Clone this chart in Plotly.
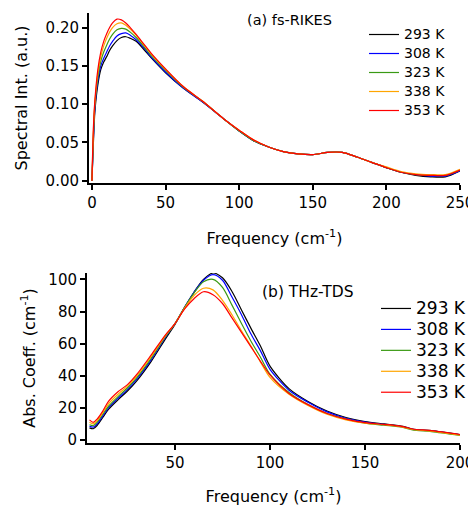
import plotly.graph_objects as go

# ---------------- data ----------------
temps = ["293 K", "308 K", "323 K", "338 K", "353 K"]
colors = ["#000000", "#0000ff", "#3a9a14", "#ffa500", "#ff0000"]

# (a) fs-RIKES
freq_a = [0, 1, 2, 4, 6, 8, 10, 12, 14, 17, 20, 23, 26, 30, 35, 40, 50, 62, 75, 90,
          100, 110, 120, 130, 140, 150, 160, 170, 180, 190, 200, 210, 220, 230, 240, 250]
rikes_293 = [0, 0.050, 0.090, 0.125, 0.145, 0.155, 0.162, 0.170, 0.176, 0.183, 0.187, 0.188,
             0.186, 0.182, 0.172, 0.161, 0.141, 0.121, 0.103, 0.080,
             0.065, 0.052, 0.044, 0.038, 0.035, 0.034, 0.037, 0.037, 0.031, 0.024,
             0.017, 0.011, 0.007, 0.005, 0.005, 0.013]
rikes_308 = [0, 0.055, 0.095, 0.130, 0.150, 0.160, 0.168, 0.176, 0.182, 0.189, 0.192, 0.193,
             0.190, 0.184, 0.174, 0.162, 0.142, 0.121, 0.103, 0.080,
             0.065, 0.052, 0.044, 0.038, 0.035, 0.034, 0.037, 0.037, 0.031, 0.024,
             0.017, 0.011, 0.008, 0.006, 0.006, 0.013]
rikes_323 = [0, 0.060, 0.100, 0.135, 0.156, 0.168, 0.177, 0.185, 0.191, 0.197, 0.199, 0.198,
             0.194, 0.187, 0.176, 0.164, 0.144, 0.122, 0.104, 0.080,
             0.065, 0.052, 0.044, 0.038, 0.035, 0.034, 0.037, 0.037, 0.031, 0.024,
             0.017, 0.011, 0.008, 0.007, 0.007, 0.014]
rikes_338 = [0, 0.065, 0.102, 0.140, 0.162, 0.176, 0.186, 0.194, 0.200, 0.205, 0.206, 0.203,
             0.198, 0.190, 0.178, 0.166, 0.145, 0.123, 0.104, 0.080,
             0.066, 0.053, 0.044, 0.038, 0.035, 0.034, 0.037, 0.037, 0.031, 0.024,
             0.018, 0.012, 0.009, 0.008, 0.008, 0.015]
rikes_353 = [0, 0.070, 0.105, 0.145, 0.168, 0.182, 0.192, 0.200, 0.206, 0.211, 0.210, 0.206,
             0.200, 0.191, 0.179, 0.167, 0.146, 0.123, 0.104, 0.080,
             0.066, 0.053, 0.044, 0.038, 0.035, 0.034, 0.037, 0.037, 0.031, 0.024,
             0.017, 0.011, 0.008, 0.007, 0.007, 0.014]

# (b) THz-TDS
freq_b = [5, 7, 9, 12, 15, 20, 25, 30, 37.5, 45, 50, 55, 60, 65, 70, 75, 80, 85, 90, 95,
          100, 110, 120, 130, 140, 150, 160, 170, 175, 185, 200]
thz_293 = [7.5, 7, 9, 14, 19, 25, 30.5, 37, 49, 63, 72, 82.5, 92, 100, 104, 101, 92.5, 81, 69.5, 58.5,
           46, 32, 24, 18, 14, 11.5, 10, 8.5, 6.8, 5.8, 3.3]
thz_308 = [8.5, 8, 10, 15, 20, 26, 31.5, 38, 50, 64, 72.5, 82.5, 92, 99.5, 103, 99.5, 89, 78, 66, 55.5,
           44, 31, 23.5, 17.5, 13.5, 11.2, 9.7, 8.2, 6.6, 5.6, 3.2]
thz_323 = [9.5, 9, 11, 16, 21, 27, 32.5, 39, 51, 64.5, 72.5, 82.5, 91.5, 98.5, 100, 95, 84, 72.5, 61.5, 51.5,
           41, 29.5, 22, 16.5, 13, 10.5, 9.2, 7.8, 6.2, 5.2, 2.8]
thz_338 = [11, 10, 12, 17, 22.5, 28.5, 33.5, 40, 52, 65, 72.5, 82, 90, 94.5, 93.5, 87, 78, 68, 58.5, 48.5,
           39, 28.5, 21.5, 16, 12.5, 10.5, 9.5, 8, 6.5, 5.5, 3]
thz_353 = [12.5, 11, 13, 18, 24, 30, 34.5, 41, 53, 65.5, 72.5, 81.5, 88, 92.3, 90.5, 85, 76, 67, 58, 49,
           40.5, 29, 22, 16.5, 13, 10.8, 9.7, 8.3, 6.8, 5.8, 3.4]

rikes = [rikes_293, rikes_308, rikes_323, rikes_338, rikes_353]
thz = [thz_293, thz_308, thz_323, thz_338, thz_353]

xticks_a = [0, 50, 100, 150, 200, 250]
yticks_a = [0.00, 0.05, 0.10, 0.15, 0.20]
xticks_b = [50, 100, 150, 200]
yticks_b = [0, 20, 40, 60, 80, 100]

# ---------------- figure ----------------
FONT = "DejaVu Sans, Arial, sans-serif"
# page body has an 8px margin, so the figure is 8px smaller each way
OFF = 8
W, H = 476 - OFF, 506 - OFF


def fx(px):
    return (px - OFF) / W


def fy(py):
    return 1 - (py - OFF) / H


def legend_label(name, size):
    return f'<span style="font-size:{size}px">{name}</span>'


fig = go.Figure()

for name, col, ys in zip(temps, colors, rikes):
    fig.add_trace(go.Scatter(x=freq_a, y=ys, mode="lines", name=legend_label(name, 14),
                             line=dict(color=col, width=1.2, shape="spline", smoothing=0.8),
                             xaxis="x", yaxis="y", legend="legend"))
for name, col, ys in zip(temps, colors, thz):
    fig.add_trace(go.Scatter(x=freq_b, y=ys, mode="lines", name=legend_label(name, 17),
                             line=dict(color=col, width=1.2, shape="spline", smoothing=0.8),
                             xaxis="x2", yaxis="y2", legend="legend2"))

axis_common = dict(showline=True, linecolor="black", linewidth=2, ticks="outside",
                   ticklen=5, tickwidth=1.5, tickcolor="black", showgrid=False,
                   zeroline=False, tickfont=dict(family=FONT, size=15, color="black"),
                   mirror=False, automargin=False)

fig.update_layout(
    width=W, height=H, paper_bgcolor="white", plot_bgcolor="white",
    margin=dict(l=0, r=0, t=0, b=0),
    font=dict(family=FONT, color="black"),
    xaxis=dict(domain=[fx(89), fx(460)], range=[-2, 250], tickvals=xticks_a, anchor="y",
               title=dict(text="Frequency (cm<sup>-1</sup>)", font=dict(size=16), standoff=22),
               **axis_common),
    yaxis=dict(domain=[fy(183), fy(13)], range=[-0.003, 0.219], tickvals=yticks_a,
               tickformat=".2f", anchor="x",
               title=dict(text="Spectral Int. (a.u.)", font=dict(size=16), standoff=14),
               **axis_common),
    xaxis2=dict(domain=[fx(87), fx(460)], range=[3.7, 200], tickvals=xticks_b, anchor="y2",
                title=dict(text="Frequency (cm<sup>-1</sup>)", font=dict(size=16), standoff=20),
                **axis_common),
    yaxis2=dict(domain=[fy(443), fy(273)], range=[-1.9, 104], tickvals=yticks_b,
                anchor="x2",
                title=dict(text="Abs. Coeff. (cm<sup>-1</sup>)", font=dict(size=16), standoff=9),
                **axis_common),
    legend=dict(x=fx(364), y=fy(20), xanchor="left", yanchor="top",
                font=dict(family=FONT, size=11.5), bgcolor="rgba(0,0,0,0)",
                tracegroupgap=0, itemwidth=30),
    legend2=dict(x=fx(376), y=fy(293), xanchor="left", yanchor="top",
                 font=dict(family=FONT, size=13.8), bgcolor="rgba(0,0,0,0)",
                 tracegroupgap=0, itemwidth=30),
    annotations=[
        dict(text="(a) fs-RIKES", x=fx(245), y=fy(20), xref="paper", yref="paper",
             xanchor="left", yanchor="middle", showarrow=False,
             font=dict(family=FONT, size=14.5, color="black")),
        dict(text="(b) THz-TDS", x=fx(260), y=fy(292), xref="paper", yref="paper",
             xanchor="left", yanchor="middle", showarrow=False,
             font=dict(family=FONT, size=15.5, color="black")),
    ],
    showlegend=True,
)

fig.write_html("out.html")
